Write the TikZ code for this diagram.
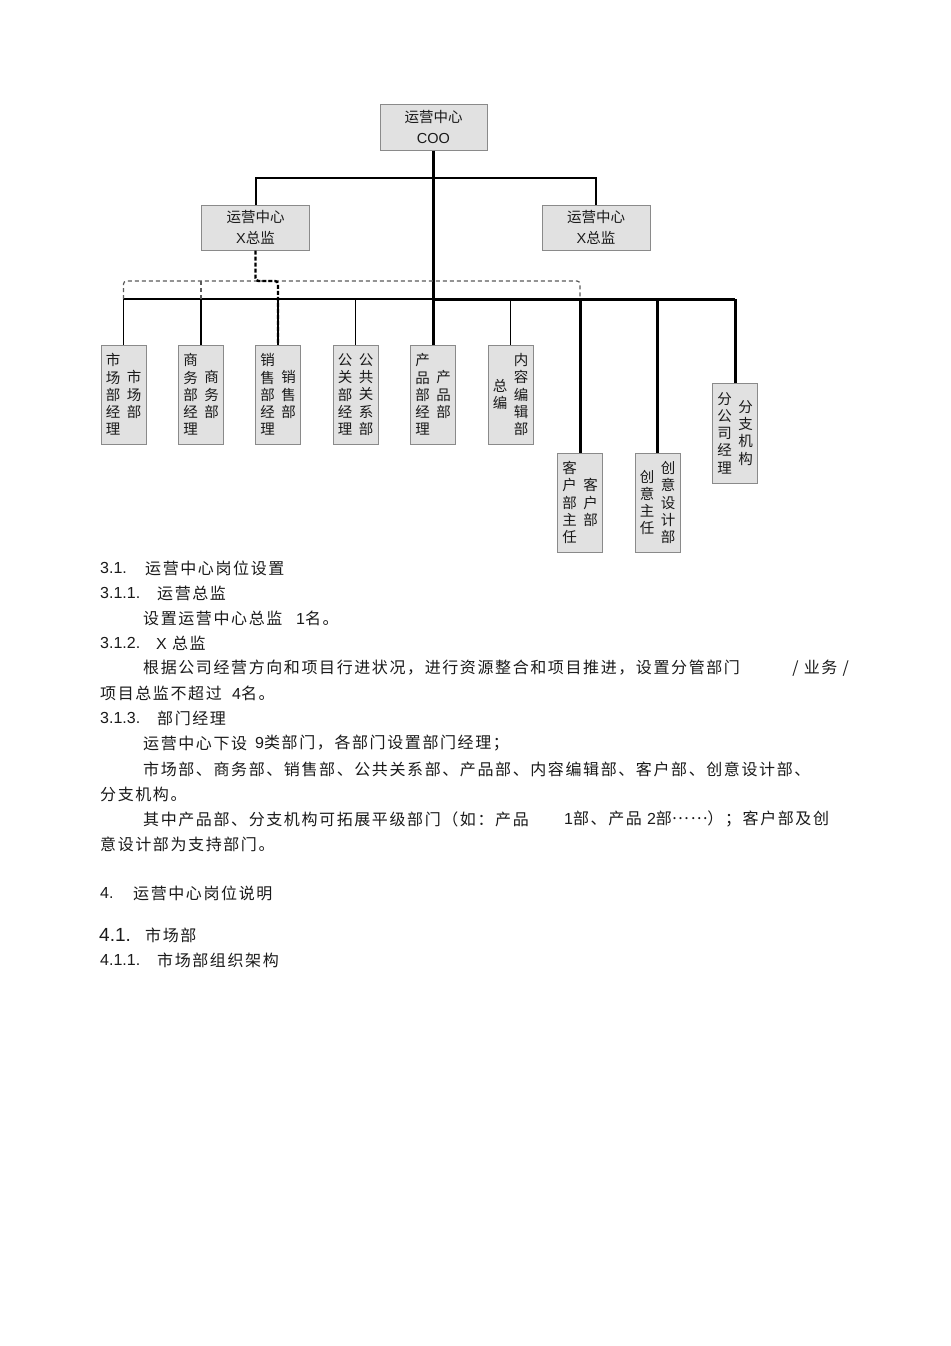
\documentclass[tikz,border=0pt]{standalone}
\usepackage{fontspec}
\setmainfont{Noto Sans CJK SC}
\newfontfamily\bodyf[LetterSpace=10]{Noto Sans CJK SC}
\newfontfamily\numf{Liberation Sans}
\newcommand{\dg}[1]{{\numf #1}}
\definecolor{boxfill}{HTML}{E1E1E1}
\definecolor{boxline}{HTML}{8A8A8A}
\definecolor{dashgray}{HTML}{5A5A5A}
\definecolor{ink}{HTML}{1A1A1A}
\newcommand{\mydept}[7]{%
  \node[dept, minimum height=#4] (#1) at (#2,#3) {};
  \node[vtext] (#1l) at ([xshift=-10.5pt]#1.center) {#5};
  \node[vtext] (#1r) at ([xshift=10.5pt]#1.center) {#6};
}
\tikzset{
  box/.style={draw=boxline, fill=boxfill, line width=1pt, inner sep=0pt, align=center,
    text=ink, font=\fontsize{14.5}{21}\selectfont},
  dept/.style={draw=boxline, fill=boxfill, line width=1pt, inner sep=0pt, minimum width=45pt},
  vtext/.style={inner sep=0pt, align=center, text=ink, font=\fontsize{14.5}{17.2}\selectfont},
  thinline/.style={draw=black, line width=1.8pt},
  thickline/.style={draw=black, line width=3pt},
  dashthin/.style={draw=dashgray, line width=1.2pt, dash pattern=on 4pt off 3pt},
  dashthick/.style={draw=black, line width=2.4pt, dash pattern=on 4pt off 2pt},
  body/.style={anchor=west, inner sep=0pt, text=ink, font=\bodyf\fontsize{16}{20}\selectfont},
  num/.style={anchor=west, inner sep=0pt, text=ink, font=\numf\fontsize{16}{20}\selectfont},
}
\begin{document}
\begin{tikzpicture}[x=1pt, y=-1pt]
\useasboundingbox (0,0) rectangle (950,1346);
\fill[white] (0,0) rectangle (950,1346);

% top level boxes
\node[box, minimum width=107pt, minimum height=46pt] (coo) at (433.5,127) {运营中心\\\dg{COO}};
\node[box, minimum width=108pt, minimum height=45pt] (xl) at (255.5,227.5) {运营中心\\\dg{X}总监};
\node[box, minimum width=108pt, minimum height=45pt] (xr) at (596,227.5) {运营中心\\\dg{X}总监};

% department boxes: name, cx, cy, height, left column, right column
\mydept{d1}{123.5}{394.5}{99pt}{市\\场\\部\\经\\理}{市\\场\\部}{}
\mydept{d2}{201}{394.5}{99pt}{商\\务\\部\\经\\理}{商\\务\\部}{}
\mydept{d3}{278}{394.5}{99pt}{销\\售\\部\\经\\理}{销\\售\\部}{}
\mydept{d4}{355.5}{394.5}{99pt}{公\\关\\部\\经\\理}{公\\共\\关\\系\\部}{}
\mydept{d5}{433}{394.5}{99pt}{产\\品\\部\\经\\理}{产\\品\\部}{}
\mydept{d6}{510.5}{394.5}{99pt}{总\\编}{内\\容\\编\\辑\\部}{}
\mydept{d7}{580}{502.5}{99pt}{客\\户\\部\\主\\任}{客\\户\\部}{}
\mydept{d8}{657.5}{502.5}{99pt}{创\\意\\主\\任}{创\\意\\设\\计\\部}{}
\mydept{d9}{735}{433}{100pt}{分\\公\\司\\经\\理}{分\\支\\机\\构}{}

\coordinate (busy) at (0,299);
\coordinate (dy) at (0,281);

% COO to X directors
\draw[line width=2pt] (xl.north) -- ++(0,-27) -| (xr.north);
% trunk
\draw[thickline] (coo.south) -- (coo.south |- busy);
% bus
\draw[thinline] (d1.north |- busy) -- (coo.south |- busy);
\draw[thickline] (coo.south |- busy) -- (d9.north |- busy);
% drops
\draw[thinline] (d1.north |- busy) -- (d1.north);
\draw[thinline] (d2.north |- busy) -- (d2.north);
\draw[thinline] (d3.north |- busy) -- (d3.north);
\draw[thinline] (d4.north |- busy) -- (d4.north);
\draw[thickline] (d5.north |- busy) -- (d5.north);
\draw[thinline] (d6.north |- busy) -- (d6.north);
\draw[thickline] (d7.north |- busy) -- (d7.north);
\draw[thickline] (d8.north |- busy) -- (d8.north);
\draw[thickline] (d9.north |- busy) -- (d9.north);
% dashed links
\draw[dashthin, rounded corners=3pt] (d1.north |- busy) -- (d1.north |- dy) -| (d7.north |- busy);
\draw[dashthin] (d2.north |- dy) -- (d2.north |- busy);
\draw[dashthick, rounded corners=3pt] (xl.south) -- (xl.south |- dy) -| (d3.north);

% text
\node[num] (s31n) at (100,568) {3.1.};
\node[body] (s31t) at (145,568) {运营中心岗位设置};
\node[num] (s311n) at (100,593) {3.1.1.};
\node[body] (s311t) at (157,593) {运营总监};
\node[body] (p1a) at (143,618) {设置运营中心总监};
\node[body] (p1b) at (296,618) {\dg{1}名。};
\node[num] (s312n) at (100,643) {3.1.2.};
\node[body] (s312t) at (156,643) {\dg{X} 总监};
\node[body] (p2a) at (143,668) {根据公司经营方向和项目行进状况，进行资源整合和项目推进，设置分管部门};
\node[body, anchor=east] (p2b) at (849,668) {/ 业务 /};
\node[body] (p2c) at (100,693) {项目总监不超过};
\node[body] (p2d) at (232,693) {\dg{4}名。};
\node[num] (s313n) at (100,718) {3.1.3.};
\node[body] (s313t) at (157,718) {部门经理};
\node[body] (p3a) at (143,743) {运营中心下设};
\node[body] (p3b) at (255,743) {\dg{9}类部门，各部门设置部门经理；};
\node[body] (p4a) at (143,769) {市场部、商务部、销售部、公共关系部、产品部、内容编辑部、客户部、创意设计部、};
\node[body] (p4b) at (100,794) {分支机构。};
\node[body] (p5a) at (143,819) {其中产品部、分支机构可拓展平级部门（如：产品};
\node[body] (p5b) at (564,819) {\dg{1}部、产品 \dg{2}部\raisebox{5pt}{……}）；客户部及创};
\node[body] (p5c) at (100,844) {意设计部为支持部门。};
\node[num] (s4n) at (100,893) {4.};
\node[body] (s4t) at (133,893) {运营中心岗位说明};
\node[num, font=\numf\fontsize{19}{22}\selectfont] (s41n) at (99,935) {4.1.};
\node[body] (s41t) at (145,935) {市场部};
\node[num] (s411n) at (100,960) {4.1.1.};
\node[body] (s411t) at (157,960) {市场部组织架构};
\end{tikzpicture}
\end{document}
